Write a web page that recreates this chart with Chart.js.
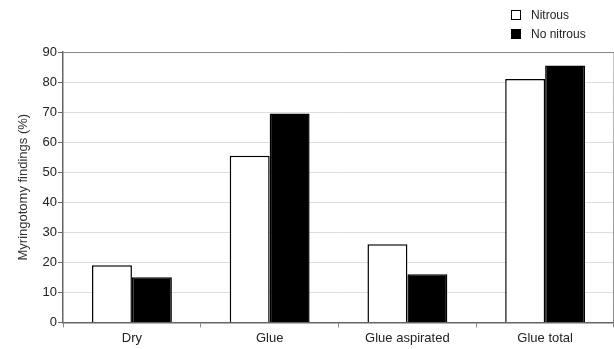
<!DOCTYPE html>
<html>
<head>
<meta charset="utf-8">
<script src="https://cdn.jsdelivr.net/npm/chart.js@4"></script>
<style>
  html, body { margin: 0; padding: 0; background: #fff; }
  #wrap { position: relative; width: 614px; height: 349px; }
  #legend { position: absolute; left: 511px; top: 6px; font: 12px "Liberation Sans", Arial, sans-serif; color: #222; }
  #legend div { height: 19px; line-height: 19px; }
  #legend span.box { display: inline-block; width: 10px; height: 10px; border: 1.5px solid #000; margin-right: 10px; vertical-align: -1px; box-sizing: border-box; }
</style>
</head>
<body>
<div id="wrap">
  <canvas id="chart" width="614" height="349"></canvas>
  <div id="legend"></div>
</div>
<script>
// 데이터
const categories = ['Dry', 'Glue', 'Glue aspirated', 'Glue total'];
const nitrous    = [19, 55.5, 26, 81];
const noNitrous  = [15, 69.5, 16, 85.5];
const seriesNames = ['Nitrous', 'No nitrous'];
const yTicks = [0, 10, 20, 30, 40, 50, 60, 70, 80, 90];

// 위쪽/오른쪽 테두리
const frame = {
  id: 'frame',
  afterDraw(chart) {
    const { ctx, chartArea: a } = chart;
    ctx.save();
    ctx.strokeStyle = '#888';
    ctx.lineWidth = 1;
    ctx.beginPath();
    ctx.moveTo(a.left, a.top + 0.5);
    ctx.lineTo(a.right, a.top + 0.5);
    ctx.lineTo(a.right - 0.5, a.bottom);
    ctx.stroke();
    ctx.restore();
  }
};

const chart = new Chart(document.getElementById('chart').getContext('2d'), {
  type: 'bar',
  data: {
    labels: categories,
    datasets: [
      { label: seriesNames[0], data: nitrous, backgroundColor: '#fff', borderColor: '#000', borderWidth: 1.5 },
      { label: seriesNames[1], data: noNitrous, backgroundColor: '#000', borderColor: '#000', borderWidth: 1.5 }
    ]
  },
  options: {
    responsive: false,
    animation: false,
    layout: { padding: { top: 52, right: 0, left: 12, bottom: 0 } },
    datasets: { bar: { categoryPercentage: 0.58, barPercentage: 1 } },
    plugins: { legend: { display: false }, tooltip: { enabled: false } },
    scales: {
      x: {
        grid: { offset: true, drawOnChartArea: false, drawTicks: true, tickLength: 5, color: '#888' },
        border: { color: '#666', width: 1.5 },
        ticks: { color: '#222', font: { family: 'Liberation Sans', size: 13 }, padding: 3 }
      },
      y: {
        min: 0, max: 90,
        afterBuildTicks: axis => { axis.ticks = yTicks.map(v => ({ value: v })); },
        grid: { color: '#ddd', tickLength: 5, tickColor: '#666' },
        border: { color: '#666', width: 1.5 },
        ticks: { color: '#222', font: { family: 'Liberation Sans', size: 13 }, padding: 1 },
        title: { display: true, text: 'Myringotomy findings (%)', color: '#333', font: { family: 'Liberation Sans', size: 13 }, padding: { top: 4, bottom: 10 } }
      }
    }
  },
  plugins: [frame]
});

// 범례
const legend = document.getElementById('legend');
chart.data.datasets.forEach(ds => {
  const row = document.createElement('div');
  row.innerHTML = '<span class="box" style="background:' + ds.backgroundColor + '"></span>' + ds.label;
  legend.appendChild(row);
});
</script>
</body>
</html>
